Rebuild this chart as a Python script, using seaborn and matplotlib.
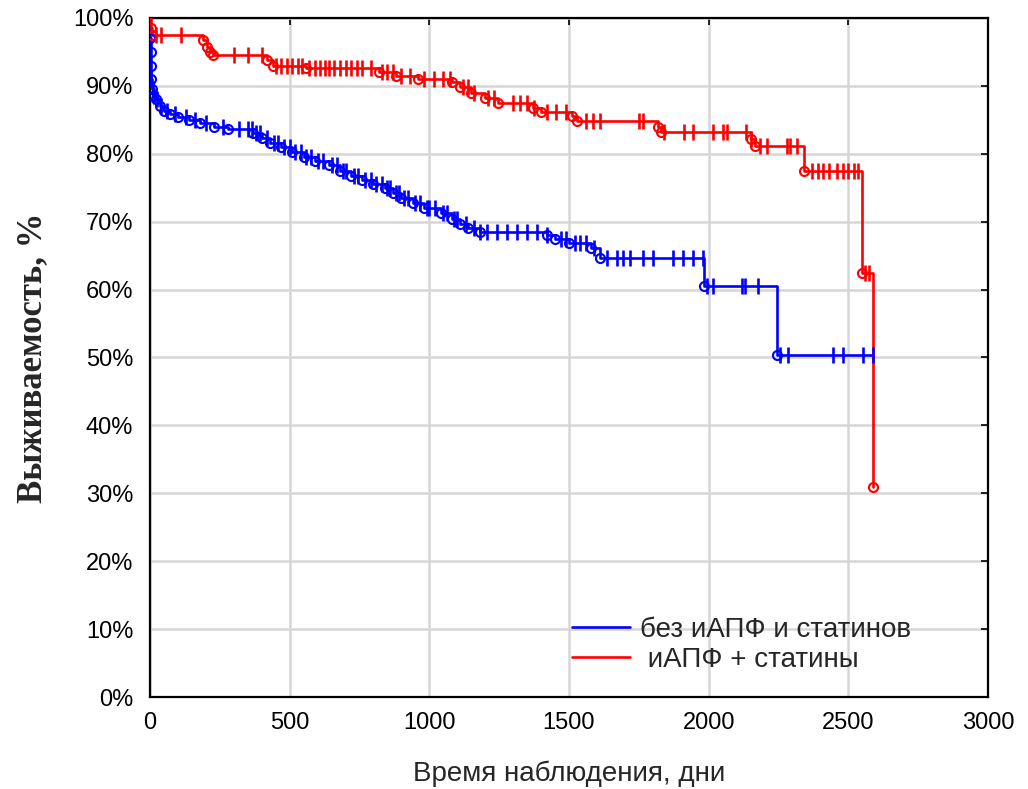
import numpy as np
import pandas as pd
import matplotlib
matplotlib.use("Agg")
import matplotlib.pyplot as plt
import matplotlib.ticker as mticker
import seaborn as sns

# Kaplan-Meier steps (time in days, survival in %)
blue_times = [0, 1, 2, 3, 5, 8, 12, 20, 35, 50, 70, 100, 140, 180, 230, 280,
              370, 400, 430, 470, 510, 550, 590, 640, 680, 720, 760, 800, 840,
              870, 900, 940, 980, 1040, 1080, 1110, 1140, 1180, 1420, 1450,
              1500, 1580, 1610, 1985, 2245]
blue_surv = [100, 97, 95, 93, 91, 89.5, 88.5, 88, 87, 86.3, 85.8, 85.4, 85.0,
             84.6, 84.0, 83.6, 83.0, 82.3, 81.6, 81.0, 80.2, 79.6, 79.0, 78.3,
             77.5, 76.8, 76.1, 75.5, 75.0, 74.2, 73.5, 72.8, 72.0, 71.3, 70.4,
             69.6, 69.0, 68.5, 68.0, 67.4, 66.8, 66.1, 64.7, 60.5, 50.4]
blue_end = 2590
blue_censored = [5, 10, 15, 25, 40, 60, 90, 130, 160, 200, 260, 320, 350, 365,
                 380, 395, 420, 445, 460, 480, 500, 520, 540, 560, 575, 600,
                 620, 650, 670, 690, 700, 730, 745, 770, 790, 810, 830, 850,
                 860, 880, 890, 910, 925, 950, 965, 990, 1000, 1020, 1050,
                 1065, 1090, 1100, 1130, 1160, 1181, 1206, 1242, 1278, 1314,
                 1350, 1386, 1421, 1470, 1490, 1520, 1540, 1560, 1590, 1636,
                 1672, 1694, 1719, 1765, 1801, 1872, 1908, 1944, 1980, 1993,
                 2017, 2118, 2130, 2177, 2255, 2284, 2445, 2481, 2553, 2590]

red_times = [0, 3, 8, 190, 205, 215, 225, 420, 440, 560, 820, 880, 960, 1080,
             1110, 1150, 1200, 1245, 1370, 1400, 1510, 1530, 1820, 1830, 2150,
             2165, 2340, 2548, 2589]
red_surv = [100, 98.5, 97.5, 96.8, 95.8, 95.0, 94.5, 93.8, 93.0, 92.6, 92.0,
            91.5, 91.0, 90.5, 89.8, 89.0, 88.2, 87.5, 86.8, 86.2, 85.5, 84.9,
            83.9, 83.2, 82.2, 81.2, 77.4, 62.4, 31.0]
red_end = 2589
red_censored = [20, 40, 110, 300, 350, 400, 450, 470, 490, 510, 530, 545, 570,
                590, 610, 625, 640, 660, 680, 700, 720, 740, 760, 790, 830,
                850, 870, 900, 930, 980, 1015, 1050, 1075, 1120, 1140, 1160,
                1210, 1230, 1300, 1325, 1350, 1375, 1420, 1455, 1490, 1560,
                1585, 1610, 1750, 1765, 1840, 1910, 1945, 2015, 2050, 2065,
                2135, 2150, 2185, 2210, 2280, 2290, 2315, 2370, 2390, 2410,
                2430, 2460, 2480, 2500, 2520, 2535, 2560, 2575]

groups = [
    ("без иАПФ и статинов", "#0000ff", blue_times, blue_surv, blue_end, blue_censored),
    (" иАПФ + статины", "#ff0000", red_times, red_surv, red_end, red_censored),
]

sns.set_style("white")
plt.rcParams["font.family"] = ["Liberation Sans", "DejaVu Sans"]

fig = plt.figure(figsize=(10.28, 7.89), dpi=100)
ax = fig.add_axes([0.1459, 0.1166, 0.8152, 0.8606])

for label, color, times, surv, end, cens in groups:
    steps = pd.DataFrame({"t": list(times) + [end], "s": list(surv) + [surv[-1]]})
    sns.lineplot(data=steps, x="t", y="s", ax=ax, color=color, lw=1.9,
                 drawstyle="steps-post", estimator=None, sort=False,
                 label=label, zorder=3)
    # censored observations on the curve
    idx = np.searchsorted(times, cens, side="right") - 1
    cdf = pd.DataFrame({"t": cens, "s": np.asarray(surv)[idx]})
    sns.scatterplot(data=cdf, x="t", y="s", ax=ax, marker="|", s=130,
                    color=color, linewidth=1.9, zorder=4, legend=False)
    # events (open circles)
    ax.plot(times[1:], surv[1:], ls="none", marker="o", ms=6.5, mfc="none",
            mec=color, mew=1.5, zorder=4)

ax.set_xlim(0, 3000)
ax.set_ylim(0, 100)
ax.set_xticks(np.arange(0, 3001, 500))
ax.set_yticks(np.arange(0, 101, 10))
ax.yaxis.set_major_formatter(mticker.FuncFormatter(lambda v, p: f"{int(v)}%"))
ax.grid(True, color="#d6d6d6", lw=1.8)
ax.set_axisbelow(True)
for sp in ax.spines.values():
    sp.set_color("black")
    sp.set_linewidth(1.6)
ax.tick_params(axis="both", direction="in", length=5, width=1.2,
               labelsize=17, top=True, right=True, colors="black")
ax.tick_params(axis="y", pad=12)
ax.tick_params(axis="x", pad=11)

ax.set_xlabel("Время наблюдения, дни", fontsize=20, labelpad=19)
ax.set_ylabel("Выживаемость, %", fontsize=25, fontweight="bold",
              family=["Liberation Serif", "DejaVu Serif"], labelpad=17)

leg = ax.legend(loc="center left", bbox_to_anchor=(0.5036, 0.0766),
                frameon=False, fontsize=20, handlelength=2.1,
                handletextpad=0.36, labelspacing=0.15, borderpad=0,
                borderaxespad=0)

fig.savefig("out.png", dpi=100)
plt.close(fig)
